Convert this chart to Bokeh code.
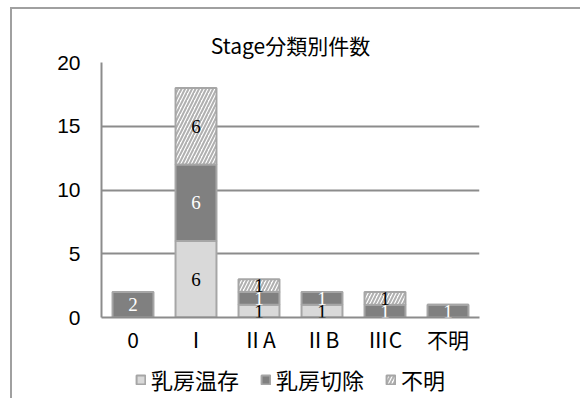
import numpy as np
from bokeh.plotting import figure
from bokeh.layouts import column
from bokeh.models import (ColumnDataSource, FactorRange, Range1d, FixedTicker,
                          LabelSet, Legend, LegendItem)
from bokeh.transform import stack
from bokeh.core.properties import value
from bokeh.embed import file_html
from bokeh.resources import INLINE

categories = ["0", "Ⅰ", "ⅡA", "ⅡB", "ⅢC", "不明"]
conserve = [0, 6, 1, 1, 0, 0]      # 乳房温存
mastectomy = [2, 6, 1, 1, 1, 1]    # 乳房切除
unknown = [0, 6, 1, 0, 1, 0]       # 不明
series_names = ["乳房温存", "乳房切除", "不明"]
y_ticks = [0, 5, 10, 15, 20]
title_text = "Stage分類別件数"

c = np.array(conserve, float)
m = np.array(mastectomy, float)
u = np.array(unknown, float)

def lbl(arr):
    return [str(int(v)) if v > 0 else "" for v in arr]

src = ColumnDataSource(dict(
    cat=categories, conserve=conserve, mastectomy=mastectomy, unknown=unknown,
    mid1=c / 2, mid2=c + m / 2, mid3=c + m + u / 2,
    l1=lbl(c), l2=lbl(m), l3=lbl(u),
))

CJK = "Noto Sans CJK JP"
edge = "#a6a6a6"
LIGHT, DARK = "#d9d9d9", "#808080"
hatch_kw = dict(hatch_pattern="/", hatch_color="#b0b0b0", hatch_scale=7, hatch_weight=2)

p = figure(width=570, height=353, x_range=FactorRange(*categories, range_padding=0),
           y_range=Range1d(0, 20), output_backend="svg", toolbar_location=None,
           title=title_text,
           min_border_left=89, min_border_top=53, min_border_right=103, min_border_bottom=45)
p.styles = {"border-top": "2px solid #a0a0a0", "border-left": "2px solid #a0a0a0"}
p.outline_line_color = None
p.background_fill_color = "white"
p.border_fill_color = "white"

p.title.align = "center"
p.title.offset = 0
p.title.text_font = CJK
p.title.text_font_size = "21px"
p.title.text_font_style = "normal"
p.title.text_color = "black"
p.title.standoff = 5

def add_bars(fig, w):
    a = fig.vbar(x="cat", bottom=0, top=stack("conserve"), width=w, source=src,
                 fill_color=LIGHT, line_color=edge, line_width=2)
    b = fig.vbar(x="cat", bottom=stack("conserve"), top=stack("conserve", "mastectomy"),
                 width=w, source=src, fill_color=DARK, line_color=edge, line_width=2)
    cc = fig.vbar(x="cat", bottom=stack("conserve", "mastectomy"),
                  top=stack("conserve", "mastectomy", "unknown"), width=w, source=src,
                  fill_color="white", line_color=edge, line_width=2, **hatch_kw)
    return a, b, cc

add_bars(p, 0.65)

for ycol, tcol, col in [("mid1", "l1", "black"), ("mid2", "l2", "white"), ("mid3", "l3", "black")]:
    p.add_layout(LabelSet(x="cat", y=ycol, text=tcol, source=src, text_align="center",
                          text_baseline="middle", text_color=col,
                          text_font=value("Liberation Serif"), text_font_size="19px"))

p.yaxis.ticker = FixedTicker(ticks=y_ticks)
p.yaxis.major_tick_line_color = None
p.yaxis.minor_tick_line_color = None
p.yaxis.axis_line_color = "#8c8c8c"
p.yaxis.axis_line_width = 2
p.yaxis.major_label_text_font = "Liberation Sans"
p.yaxis.major_label_text_font_size = "21px"
p.yaxis.major_label_text_color = "black"
p.yaxis.major_label_standoff = 15

p.xaxis.major_tick_line_color = None
p.xaxis.axis_line_color = "#8c8c8c"
p.xaxis.axis_line_width = 2
p.xaxis.major_label_text_font = CJK
p.xaxis.major_label_text_font_size = "21px"
p.xaxis.major_label_text_color = "black"
p.xaxis.major_label_standoff = 0

p.xgrid.grid_line_color = None
p.ygrid.ticker = FixedTicker(ticks=y_ticks)
p.ygrid.grid_line_color = "#8c8c8c"
p.ygrid.grid_line_width = 2

# legend strip below the chart (same series; its bars are hidden, only the legend shows)
p2 = figure(width=570, height=38, x_range=FactorRange(*categories),
            y_range=Range1d(100, 101), output_backend="svg", toolbar_location=None,
            min_border_left=0, min_border_top=0, min_border_right=14, min_border_bottom=0)
p2.styles = {"border-left": "2px solid #a0a0a0"}
p2.axis.visible = False
p2.grid.visible = False
p2.outline_line_color = None
d1, d2, d3 = add_bars(p2, 0.5)
for r in (d1, d2, d3):
    r.visible = False

legend = Legend(items=[LegendItem(label=series_names[0], renderers=[d1]),
                       LegendItem(label=series_names[1], renderers=[d2]),
                       LegendItem(label=series_names[2], renderers=[d3])],
                orientation="horizontal", location="center")
legend.border_line_color = None
legend.background_fill_alpha = 0
legend.inactive_fill_alpha = 0
legend.glyph_width = 11
legend.glyph_height = 11
legend.label_text_font = CJK
legend.label_text_font_size = "22px"
legend.label_text_color = "black"
legend.label_standoff = 5
legend.spacing = 21
legend.padding = 0
legend.margin = 0
p2.add_layout(legend)

layout = column(p, p2, spacing=0, styles={"margin-left": "10px", "margin-top": "7px"})

open("out.html", "w").write(file_html(layout, INLINE))
